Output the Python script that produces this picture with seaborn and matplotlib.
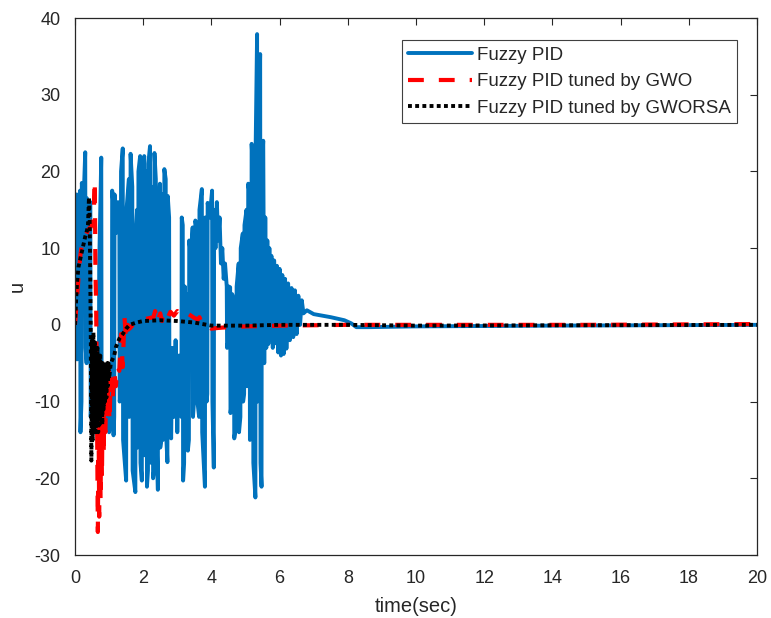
import matplotlib
matplotlib.use("Agg")
import matplotlib.pyplot as plt
import pandas as pd
import seaborn as sns

# ---------------- data ----------------
series_names = ["Fuzzy PID", "Fuzzy PID tuned by GWO", "Fuzzy PID tuned by GWORSA"]

fuzzy_t = [0.00,
           0.01, 0.05, 0.06, 0.09, 0.10, 0.15, 0.16, 0.19, 0.20, 0.25, 0.30, 0.31, 0.34,
           0.35, 0.40, 0.45, 0.46, 0.52, 0.58, 0.64, 0.70, 0.71, 0.77, 0.78, 0.85, 0.92,
           1.00, 1.08, 1.09, 1.12, 1.13, 1.15, 1.16, 1.21, 1.26, 1.30, 1.31, 1.34, 1.35,
           1.40, 1.41, 1.50, 1.51, 1.58, 1.59, 1.62, 1.63, 1.68, 1.69, 1.77, 1.78, 1.82,
           1.83, 1.85, 1.86, 1.91, 1.92, 1.96, 1.97, 2.03, 2.04, 2.06, 2.07, 2.10, 2.11,
           2.14, 2.15, 2.20, 2.21, 2.24, 2.25, 2.28, 2.29, 2.32, 2.33, 2.37, 2.38, 2.43,
           2.44, 2.49, 2.50, 2.53, 2.54, 2.57, 2.58, 2.61, 2.62, 2.66, 2.67, 2.71, 2.72,
           2.76, 2.77, 2.82, 2.85, 2.90, 2.95, 3.00, 3.05, 3.12, 3.13, 3.16, 3.17, 3.20,
           3.22, 3.25, 3.28, 3.30, 3.31, 3.34, 3.35, 3.40, 3.45, 3.46, 3.52, 3.53, 3.58,
           3.59, 3.64, 3.65, 3.72, 3.73, 3.81, 3.82, 3.85, 3.86, 3.88, 3.89, 3.95, 4.02,
           4.03, 4.07, 4.08, 4.12, 4.16, 4.20, 4.24, 4.28, 4.32, 4.36, 4.40, 4.45, 4.46,
           4.50, 4.51, 4.55, 4.56, 4.60, 4.61, 4.66, 4.67, 4.73, 4.74, 4.80, 4.81, 4.85,
           4.86, 4.92, 4.93, 4.96, 4.97, 5.03, 5.04, 5.07, 5.08, 5.12, 5.13, 5.17, 5.18,
           5.22, 5.23, 5.29, 5.30, 5.34, 5.35, 5.36, 5.37, 5.43, 5.44, 5.47, 5.48, 5.52,
           5.55, 5.58, 5.61, 5.64, 5.67, 5.70, 5.73, 5.76, 5.80, 5.84, 5.88, 5.92, 5.96,
           6.00, 6.04, 6.08, 6.12, 6.16, 6.20, 6.25, 6.30, 6.35, 6.40, 6.45, 6.50, 6.55,
           6.60, 6.65, 6.70, 6.80, 7.00, 7.50, 7.90, 8.10, 8.25, 8.60, 10.0, 14.0, 20.0]
fuzzy_u = [0.0,
           15.0, 17.0, -4.5, -2.0, 12.0, 17.5, -14.0, -10.0, 18.5, 16.0, 22.5, -3.0, -5.0,
           16.5, 14.0, 16.0, -12.0, -6.0, -14.0, -9.0, -8.0, 8.0, 21.8, -8.0, -13.0, -9.0,
           -14.0, -12.0, 17.5, 16.0, -14.4, -12.0, 17.0, 12.0, 16.0, 15.0, -10.0, -9.0, 20.0,
           23.0, -15.0, -20.3, 15.0, 19.0, -12.0, -11.0, 22.3, 18.0, -19.0, -21.8, 12.0, 15.0,
           -16.0, -15.0, 20.0, 22.0, -18.0, -20.3, 18.0, 22.0, -17.0, -16.0, 16.0, 20.0, -21.1,
           -19.0, 21.0, 23.3, -14.0, -18.0, 18.0, 17.0, -20.0, -19.0, 22.4, 19.0, -12.0, -21.5,
           14.0, 18.4, -16.0, -15.0, 15.0, 17.0, -15.0, -13.0, 20.3, 19.0, -14.0, -17.9, 16.8,
           14.0, -12.0, -14.8, -3.0, -12.0, -2.0, -14.0, -4.0, -12.0, 14.0, 13.0, -20.3, -18.0,
           5.0, -10.0, 4.0, -12.0, -16.4, -15.0, 11.0, 9.0, 12.7, -12.0, -8.0, 13.6, 12.0,
           -10.0, -12.0, 15.0, 17.7, -14.0, -21.1, 14.0, 13.0, -10.0, -9.0, 15.9, 14.0, 17.5,
           -10.0, -18.6, 15.0, 10.0, 16.0, 11.0, 14.0, 8.0, 10.0, 6.0, 8.0, 5.0, -3.0,
           -2.0, 5.0, 4.9, -11.5, -10.0, 4.0, 3.0, -14.8, -13.0, 5.0, 8.0, -14.0, -12.0,
           10.0, 11.9, -10.0, -9.0, 13.0, 15.0, -8.0, -7.0, 18.4, 17.0, -15.0, -12.0, 23.6,
           20.0, -18.0, -22.5, 24.0, 37.9, -10.0, -9.0, 20.0, 35.3, -18.0, -21.1, 20.0, 24.0,
           -5.0, 14.0, -3.0, 11.0, -2.5, 10.0, -2.0, 9.0, -3.0, 8.4, -2.4, 7.7, -3.6,
           7.3, -4.0, 6.5, -3.8, 6.0, -3.1, 5.4, -2.0, 4.8, -1.6, 4.5, -1.2, 3.8,
           0.0, 3.2, 1.5, 1.9, 1.4, 1.0, 0.6, 0.2, -0.3, -0.3, -0.2, -0.1, 0.0]

gwo_t = [0.00, 0.05, 0.10, 0.15, 0.20, 0.25, 0.30, 0.35, 0.40, 0.45, 0.50, 0.55, 0.58, 0.60,
         0.62, 0.64, 0.67, 0.69, 0.71, 0.73, 0.75, 0.77, 0.79, 0.81, 0.84, 0.86, 0.89, 0.92,
         0.95, 0.98, 1.01, 1.05, 1.10, 1.15, 1.20, 1.25, 1.30, 1.35, 1.40, 1.45, 1.50, 1.55,
         1.60, 1.70, 1.80, 1.90, 2.00, 2.10, 2.20, 2.30, 2.35, 2.40, 2.50, 2.55, 2.60, 2.70,
         2.80, 2.90, 3.00, 3.10, 3.20, 3.30, 3.40, 3.50, 3.60, 3.65, 3.72, 3.80, 3.90, 4.00,
         4.20, 4.50, 5.00, 6.00, 8.00, 10.0, 15.0, 20.0]
gwo_u = [0.0, 3.0, 6.0, 8.8, 10.5, 11.0, 11.5, 12.0, 12.5, 12.7, 13.0, 14.4, 18.8, 6.7,
         2.8, -8.0, -27.0, -12.0, -25.0, -13.0, -23.0, -11.5, -20.0, -10.0, -17.0, -9.0, -14.0, -8.0,
         -12.0, -6.0, -12.6, -7.0, -10.0, -6.0, -8.0, -5.5, -6.0, -1.2, -5.5, 1.0, -2.0, 0.0,
         -0.5, 0.0, 0.3, 0.5, 0.6, 0.8, 0.9, 1.0, 1.8, 0.3, 1.5, 0.5, 1.6, 0.8,
         1.7, 1.2, 1.8, 1.3, 1.7, 1.5, 1.2, 0.9, 0.7, 1.0, 0.2, -0.3, -0.2, -0.5,
         -0.4, -0.3, -0.2, -0.1, 0.0, 0.0, 0.0, 0.1]

gworsa_t = [0.00, 0.03, 0.06, 0.10, 0.15, 0.20, 0.25, 0.30, 0.35, 0.38, 0.41, 0.43, 0.46, 0.48,
            0.50, 0.52, 0.54, 0.56, 0.58, 0.60, 0.62, 0.64, 0.66, 0.68, 0.70, 0.72, 0.74, 0.76,
            0.78, 0.80, 0.82, 0.84, 0.86, 0.88, 0.90, 0.92, 0.94, 0.96, 0.98, 1.00, 1.05, 1.10,
            1.15, 1.20, 1.30, 1.40, 1.50, 1.60, 1.80, 2.00, 2.50, 3.00, 3.50, 4.00, 5.00, 6.00,
            8.00, 10.0, 20.0]
gworsa_u = [0.0, 3.0, 5.5, 7.5, 8.5, 9.5, 10.5, 11.5, 12.3, 13.0, 16.6, 14.0, 0.0, -17.7,
            -2.0, -15.0, -1.0, -14.0, -2.0, -14.0, -3.0, -13.0, -3.0, -14.0, -4.0, -13.0, -4.0, -12.0,
            -5.0, -13.0, -5.0, -11.0, -5.0, -10.0, -6.0, -9.5, -5.0, -8.0, -5.0, -7.0, -5.0, -4.5,
            -4.0, -2.9, -1.8, -1.2, -0.5, 0.0, 0.3, 0.5, 0.6, 0.5, 0.3, -0.1, -0.1, 0.0,
            0.0, -0.1, 0.0]

x_ticks = list(range(0, 21, 2))
y_ticks = list(range(-30, 41, 10))

# ---------------- plotting ----------------
sns.set_style("white")
plt.rcParams['font.family'] = ['Liberation Sans', 'DejaVu Sans']
plt.rcParams['axes.unicode_minus'] = False
ink = '#262626'

fig = plt.figure(figsize=(7.71, 6.18), dpi=100)
ax = fig.add_axes([75 / 771, 63 / 618, 682 / 771, 537 / 618])

frames = [
    pd.DataFrame({'time': fuzzy_t, 'u': fuzzy_u}),
    pd.DataFrame({'time': gwo_t, 'u': gwo_u}),
    pd.DataFrame({'time': gworsa_t, 'u': gworsa_u}),
]
colors = ['#0072BD', '#FF0000', '#000000']
widths = [2.8, 3.0, 2.8]

for df, name, c, w in zip(frames, series_names, colors, widths):
    sns.lineplot(data=df, x='time', y='u', ax=ax, color=c, lw=w,
                 estimator=None, sort=False, label=name)

lines = ax.get_lines()
lines[0].set_solid_joinstyle('round')
lines[1].set_dashes((3.8, 3.6))
lines[1].set_dash_capstyle('butt')
lines[2].set_dashes((1.0, 0.85))
lines[2].set_dash_capstyle('butt')

ax.set_xlim(0, 20)
ax.set_ylim(-30, 40)
ax.set_xticks(x_ticks)
ax.set_yticks(y_ticks)
ax.tick_params(direction='in', top=True, right=True, length=5, width=0.8,
               colors=ink, labelsize=13, pad=10.5)
for s in ax.spines.values():
    s.set_visible(True)
    s.set_color(ink)
    s.set_linewidth(0.9)

ax.set_xlabel('time(sec)', fontsize=14.5, color=ink, labelpad=7.5)
ax.set_ylabel('u', fontsize=14.5, color=ink, labelpad=5.5)

handles, labels = ax.get_legend_handles_labels()
leg = ax.legend(handles, labels, loc='upper right', bbox_to_anchor=(0.9707, 0.959),
                borderaxespad=0, fontsize=13.5, handlelength=3.37, handletextpad=0.27,
                labelspacing=0.5, borderpad=0.35, frameon=True, fancybox=False,
                framealpha=1, edgecolor='#404040')
leg.get_frame().set_linewidth(0.8)

fig.savefig('out.png', dpi=100)
